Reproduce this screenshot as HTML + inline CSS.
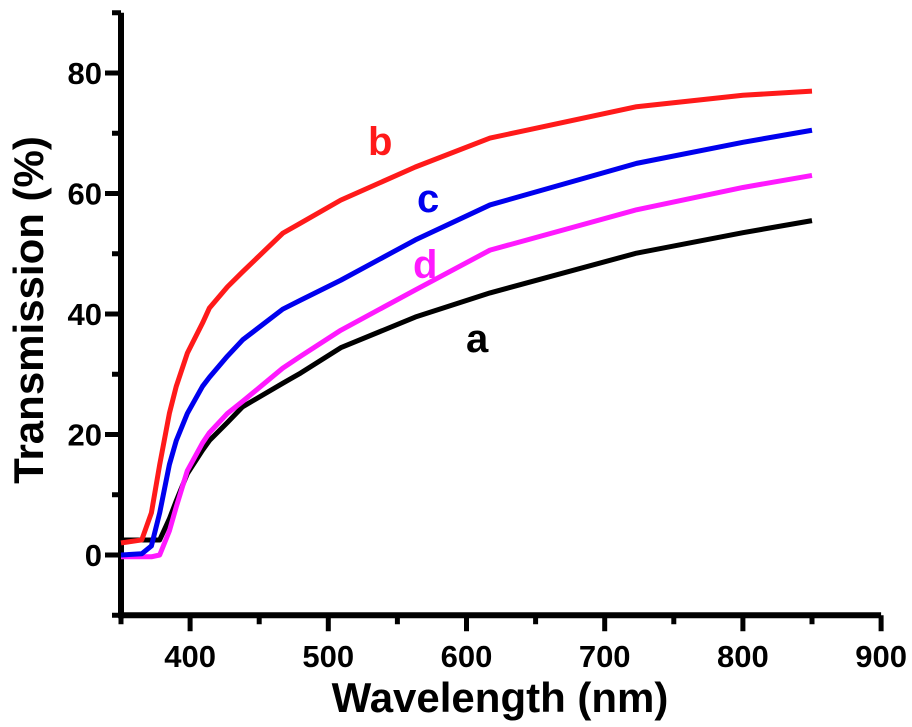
<!DOCTYPE html>
<html><head><meta charset="utf-8"><style>
body{margin:0;background:#fff}
svg{display:block;font-family:"Liberation Sans",Arial,sans-serif;font-weight:bold}
</style></head><body>
<svg id="chart" width="912" height="727" viewBox="0 0 912 727"></svg>
<script>
const wavelengths=[350,365,372,378,385,390,398,409,414,427,438,467,480,509,563,617,723,800,850];
const seriesA=[2.5,2.5,2.5,2.5,6,9,13.5,17.4,19,22,24.6,28.5,30.2,34.4,39.5,43.5,50.1,53.5,55.5];
const seriesB=[2,2.5,7,15,23.5,28,33.5,38.5,41,44.5,47,53.4,55.1,58.9,64.4,69.2,74.4,76.3,77];
const seriesC=[0,0.2,1.5,7,15,19,23.5,28,29.5,33,35.7,40.8,42.3,45.6,52.3,58.1,65,68.5,70.5];
const seriesD=[-0.3,-0.3,-0.3,0,4,8,14,18.6,20.3,23.5,25.5,31,33,37.3,44,50.6,57.3,61,63];
const xTicks=[400,500,600,700,800,900];
const yTicks=[0,20,40,60,80];
const NS="http://www.w3.org/2000/svg";
const svg=document.getElementById('chart');
const X=v=>121+(v-350)*1.382;
const Y=v=>555-v*6.025;
function mk(t,a){const e=document.createElementNS(NS,t);for(const k in a)e.setAttribute(k,a[k]);svg.appendChild(e);return e;}
let e;
e=mk('line',{x1:X(350),y1:Y(-10),x2:X(900),y2:Y(-10),stroke:'#000','stroke-width':6});


e=mk('line',{x1:X(350),y1:Y(-10)+3,x2:X(350),y2:Y(90),stroke:'#000','stroke-width':6});


for(let v=350;v<=900;v+=50){const maj=v%100==0;
 e=mk('line',{x1:X(v),y1:Y(-10),x2:X(v),y2:Y(-10)+(maj?16:9),stroke:'#000','stroke-width':5});
 
 }
xTicks.forEach(v=>{e=mk('text',{x:X(v),y:667,'text-anchor':'middle','font-size':31});e.textContent=v;
 
 });
for(let v=-10;v<=90;v+=10){const maj=v%20==0;
 e=mk('line',{x1:X(350),y1:Y(v),x2:X(350)-(maj?16:9),y2:Y(v),stroke:'#000','stroke-width':5});
 
 }
yTicks.forEach(v=>{e=mk('text',{x:102,y:Y(v)+11,'text-anchor':'end','font-size':31});e.textContent=v;
 
 });
e=mk('text',{x:500,y:712,'text-anchor':'middle','font-size':42});e.textContent='Wavelength (nm)';


e=mk('text',{x:0,y:0,'text-anchor':'middle','font-size':42,transform:'translate(43,310) rotate(-90)'});e.textContent='Transmission (%)';


const series=[['a',seriesA,'#000'],['d',seriesD,'#ff19ff'],['c',seriesC,'#0000ee'],['b',seriesB,'#ff1a1a']];
series.forEach(([n,d,c])=>{const pts=wavelengths.map((w,i)=>X(w)+','+Y(d[i])).join(' ');
 e=mk('polyline',{points:pts,fill:'none',stroke:c,'stroke-width':5,'stroke-linejoin':'round'});
 
 });
[['b',368,155,'#ff1a1a'],['c',417,212,'#0000ee'],['d',413,278,'#ff19ff'],['a',466,352,'#000']].forEach(([t,x,y,c])=>{
 e=mk('text',{x:x,y:y,'font-size':40,fill:c});e.textContent=t;
 
 });
</script>
</body></html>
